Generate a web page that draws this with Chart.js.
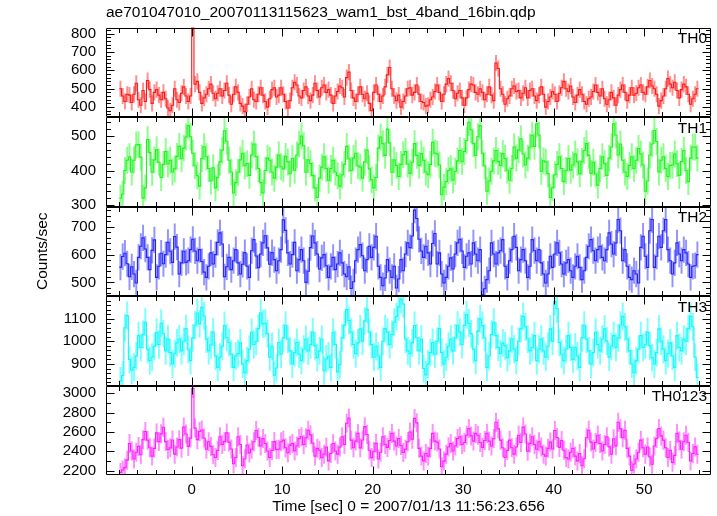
<!DOCTYPE html>
<html><head><meta charset="utf-8">
<script src="https://cdn.jsdelivr.net/npm/chart.js@4"></script>
<style>
html,body{margin:0;padding:0;background:#fff;}
#wrap{position:relative;width:717px;height:516px;overflow:hidden;}
#wrap canvas{position:absolute;left:0;top:0;}
</style></head><body>
<div id="wrap">
<canvas id="c0" width="717" height="516"></canvas>
<canvas id="c1" width="717" height="516"></canvas>
<canvas id="c2" width="717" height="516"></canvas>
<canvas id="c3" width="717" height="516"></canvas>
<canvas id="c4" width="717" height="516"></canvas>
</div>
<script>
const titleText = "ae701047010_20070113115623_wam1_bst_4band_16bin.qdp";
const xTitleText = "Time [sec] 0 = 2007/01/13 11:56:23.656";
const yTitleText = "Counts/sec";
const panelNames = ["TH0", "TH1", "TH2", "TH3", "TH0123"];

const binCenters = [
-7.875,-7.625,-7.375,-7.125,-6.875,-6.625,-6.375,-6.125,-5.875,-5.625,-5.375,-5.125,-4.875,-4.625,-4.375,-4.125,
-3.875,-3.625,-3.375,-3.125,-2.875,-2.625,-2.375,-2.125,-1.875,-1.625,-1.375,-1.125,-0.875,-0.625,-0.375,-0.125,
0.125,0.375,0.625,0.875,1.125,1.375,1.625,1.875,2.125,2.375,2.625,2.875,3.125,3.375,3.625,3.875,
4.125,4.375,4.625,4.875,5.125,5.375,5.625,5.875,6.125,6.375,6.625,6.875,7.125,7.375,7.625,7.875,
8.125,8.375,8.625,8.875,9.125,9.375,9.625,9.875,10.125,10.375,10.625,10.875,11.125,11.375,11.625,11.875,
12.125,12.375,12.625,12.875,13.125,13.375,13.625,13.875,14.125,14.375,14.625,14.875,15.125,15.375,15.625,15.875,
16.125,16.375,16.625,16.875,17.125,17.375,17.625,17.875,18.125,18.375,18.625,18.875,19.125,19.375,19.625,19.875,
20.125,20.375,20.625,20.875,21.125,21.375,21.625,21.875,22.125,22.375,22.625,22.875,23.125,23.375,23.625,23.875,
24.125,24.375,24.625,24.875,25.125,25.375,25.625,25.875,26.125,26.375,26.625,26.875,27.125,27.375,27.625,27.875,
28.125,28.375,28.625,28.875,29.125,29.375,29.625,29.875,30.125,30.375,30.625,30.875,31.125,31.375,31.625,31.875,
32.125,32.375,32.625,32.875,33.125,33.375,33.625,33.875,34.125,34.375,34.625,34.875,35.125,35.375,35.625,35.875,
36.125,36.375,36.625,36.875,37.125,37.375,37.625,37.875,38.125,38.375,38.625,38.875,39.125,39.375,39.625,39.875,
40.125,40.375,40.625,40.875,41.125,41.375,41.625,41.875,42.125,42.375,42.625,42.875,43.125,43.375,43.625,43.875,
44.125,44.375,44.625,44.875,45.125,45.375,45.625,45.875,46.125,46.375,46.625,46.875,47.125,47.375,47.625,47.875,
48.125,48.375,48.625,48.875,49.125,49.375,49.625,49.875,50.125,50.375,50.625,50.875,51.125,51.375,51.625,51.875,
52.125,52.375,52.625,52.875,53.125,53.375,53.625,53.875,54.125,54.375,54.625,54.875,55.125,55.375,55.625,55.875];
const binHalfWidth = 0.125;

const th0 = [
500,460,430,470,465,425,470,530,440,410,490,430,545,495,420,480,495,465,440,480,445,395,380,410,500,440,425,475,510,460,430,460,
835,525,540,480,420,450,470,500,525,475,445,475,500,460,490,530,465,415,470,510,480,420,405,375,415,455,500,440,430,470,505,465,
430,400,445,495,505,455,465,505,470,430,395,435,505,535,520,460,450,490,510,460,435,465,530,490,455,505,520,480,495,465,420,460,
485,515,505,455,560,590,490,450,430,470,510,470,445,475,420,380,480,520,470,430,460,510,575,615,500,460,435,465,400,430,460,500,
505,465,480,520,470,430,425,405,410,440,455,485,520,480,430,470,525,555,530,490,445,475,490,450,410,450,495,525,520,480,470,500,
480,440,470,510,465,435,640,610,500,470,415,445,460,500,515,485,490,450,475,505,450,490,500,460,435,465,510,470,400,430,455,485,
470,430,475,505,540,500,485,515,455,425,465,495,470,430,415,445,455,485,520,480,460,500,445,415,440,480,450,410,465,495,520,480,
435,465,505,465,475,505,520,480,470,510,545,515,500,470,405,435,460,500,555,525,505,535,490,450,495,525,510,470,415,445,470,500];
const th1 = [
320,332,400,430,440,396,430,474,475,439,320,350,490,452,395,431,460,424,380,418,455,419,430,396,405,441,470,434,465,497,530,498,
450,414,385,355,435,469,440,406,370,408,350,380,425,459,515,485,430,396,335,365,395,431,450,414,420,386,445,477,440,406,365,335,
400,436,430,396,378,410,445,411,405,441,425,391,435,401,445,477,500,472,395,431,420,386,350,322,378,410,440,406,372,406,430,396,
385,355,388,418,470,434,400,436,450,414,410,378,425,459,405,373,350,380,465,497,478,444,520,480,395,431,415,383,418,446,455,419,
392,424,478,444,415,449,430,396,388,418,482,450,448,416,330,352,368,400,405,373,398,428,458,426,455,487,540,518,478,444,498,530,
450,414,340,370,398,428,458,426,415,449,435,401,372,406,468,436,460,492,448,416,436,468,502,470,535,503,398,428,425,391,322,350,
388,418,440,406,368,400,435,401,416,448,425,391,426,458,478,444,392,424,390,358,406,440,420,386,436,468,535,503,445,477,430,396,
383,415,440,406,430,464,448,416,340,370,445,477,516,484,396,430,440,406,383,415,416,448,420,386,426,458,400,368,436,468,468,436];
const th2 = [
555,593,605,567,520,556,530,498,590,630,660,620,590,546,615,653,518,558,605,567,600,644,612,572,665,627,530,570,612,572,578,618,
655,613,578,618,575,537,518,558,606,566,600,644,678,638,520,556,590,546,578,618,570,530,565,607,558,518,614,654,595,553,602,642,
668,624,565,607,582,542,578,618,725,687,606,566,600,644,542,582,618,578,500,540,625,667,642,602,548,588,600,560,518,558,590,546,
566,606,570,530,520,556,478,502,578,618,636,596,542,582,630,590,626,666,558,518,488,516,582,542,518,558,480,512,582,542,602,642,
625,667,760,730,655,613,590,630,606,566,640,676,566,606,530,498,518,558,588,548,602,642,655,613,554,594,606,566,642,602,578,618,
455,477,510,542,642,602,566,606,614,654,558,518,578,618,666,626,542,582,618,578,518,558,654,614,578,618,570,530,498,530,594,554,
602,642,606,566,530,570,582,542,518,558,594,554,510,542,590,630,654,614,578,618,630,590,578,618,678,638,602,642,726,686,578,618,
558,518,510,542,530,498,626,666,594,554,686,726,554,594,666,626,686,726,618,578,530,570,642,602,578,618,606,566,518,558,560,600];
const th3 = [
825,849,1060,1114,920,872,885,935,1025,973,1030,1084,965,915,930,978,1040,986,1080,1034,958,1010,950,900,945,993,1010,958,1000,1056,965,915,
1015,1071,1125,1077,1150,1112,1010,958,985,1041,935,885,930,978,1070,1016,995,943,885,935,945,993,900,862,915,965,1040,986,1000,1056,1125,1077,
1080,1034,930,978,850,882,995,943,1015,1071,1010,958,900,950,995,943,915,965,1010,958,985,1041,980,928,958,1010,870,922,935,885,1040,986,
865,897,1015,1071,1140,1092,1040,986,945,993,1055,1001,1090,1142,1040,986,930,978,935,885,1000,1056,1040,986,1030,1084,1110,1152,1185,1165,1010,958,
945,993,1070,1016,958,1010,880,852,900,950,995,943,1000,1056,950,900,930,978,1010,958,1015,1071,1040,986,1070,1118,1080,1034,965,915,1045,1099,
1070,1016,885,935,1030,1084,1025,973,945,993,980,928,958,1010,965,915,1000,1056,1110,1064,1010,958,973,1025,915,965,1010,958,930,978,1055,1001,
1175,1145,995,943,915,965,1025,973,920,974,935,885,1015,1071,1010,958,900,950,1040,986,958,1010,1055,1001,930,978,1025,973,1015,1071,1110,1064,
1010,958,900,862,915,965,1025,973,985,1041,980,928,900,950,1055,1001,965,915,945,993,935,885,1025,973,958,1010,1000,1056,1110,1064,930,840];
const th0123 = [
2180,2206,2230,2308,2480,2402,2320,2390,2450,2364,2520,2604,2515,2437,2350,2430,2590,2500,2580,2648,2500,2418,2435,2517,2370,2444,2520,2432,2650,2578,2450,2536,
3050,2640,2520,2604,2620,2538,2420,2498,2450,2364,2335,2409,2550,2470,2500,2590,2495,2423,2270,2336,2550,2470,2250,2322,2465,2383,2420,2498,2615,2543,2455,2531,
2480,2402,2335,2409,2500,2418,2420,2498,2515,2437,2385,2463,2480,2402,2455,2531,2550,2470,2540,2618,2570,2486,2350,2430,2410,2334,2370,2444,2300,2376,2480,2402,
2370,2444,2550,2470,2690,2744,2515,2437,2505,2585,2435,2517,2655,2573,2410,2334,2400,2482,2320,2390,2550,2470,2440,2512,2585,2505,2455,2531,2460,2388,2420,2498,
2600,2524,2740,2694,2430,2350,2300,2376,2350,2430,2585,2505,2495,2423,2240,2298,2370,2444,2480,2402,2455,2531,2550,2470,2490,2566,2635,2559,2505,2585,2565,2491,
2440,2512,2585,2505,2455,2531,2700,2632,2515,2437,2335,2409,2515,2437,2370,2444,2565,2491,2650,2578,2400,2482,2550,2470,2420,2498,2445,2369,2350,2430,2495,2423,
2615,2543,2440,2512,2410,2334,2320,2390,2430,2350,2300,2376,2250,2322,2540,2618,2495,2423,2490,2566,2480,2402,2470,2550,2445,2369,2530,2456,2700,2632,2540,2618,
2430,2350,2200,2268,2320,2390,2515,2437,2370,2444,2340,2266,2455,2531,2635,2559,2515,2437,2335,2409,2285,2357,2585,2505,2420,2498,2565,2491,2300,2376,2445,2369];

const errTH0 = 42, errTH1 = 38, errTH2 = 46, errTH3 = 60, errTH0123 = 95;

const yMinTH0 = 346, yMaxTH0 = 833;
const yMinTH1 = 296, yMaxTH1 = 555;
const yMinTH2 = 451, yMaxTH2 = 773;
const yMinTH3 = 805, yMaxTH3 = 1200;
const yMinTH0123 = 2154, yMaxTH0123 = 3081;

const yTicksTH0 = [400, 500, 600, 700, 800];
const yTicksTH1 = [300, 400, 500];
const yTicksTH2 = [500, 600, 700];
const yTicksTH3 = [900, 1000, 1100];
const yTicksTH0123 = [2200, 2400, 2600, 2800, 3000];
const yMinorSteps = [20, 20, 20, 20, 100];

const xMin = -9.47, xMax = 57.38;
const xTicks = [0, 10, 20, 30, 40, 50];
const xMinorStep = 2;

const panels = [
  {name: panelNames[0], v: th0, e: errTH0, min: yMinTH0, max: yMaxTH0, ticks: yTicksTH0, minor: yMinorSteps[0], line: 'rgb(255,25,25)', bar: 'rgba(255,60,60,0.58)'},
  {name: panelNames[1], v: th1, e: errTH1, min: yMinTH1, max: yMaxTH1, ticks: yTicksTH1, minor: yMinorSteps[1], line: 'rgb(35,240,35)', bar: 'rgba(60,255,60,0.6)'},
  {name: panelNames[2], v: th2, e: errTH2, min: yMinTH2, max: yMaxTH2, ticks: yTicksTH2, minor: yMinorSteps[2], line: 'rgb(35,35,255)', bar: 'rgba(60,60,255,0.55)'},
  {name: panelNames[3], v: th3, e: errTH3, min: yMinTH3, max: yMaxTH3, ticks: yTicksTH3, minor: yMinorSteps[3], line: 'rgb(25,245,245)', bar: 'rgba(50,255,255,0.65)'},
  {name: panelNames[4], v: th0123, e: errTH0123, min: yMinTH0123, max: yMaxTH0123, ticks: yTicksTH0123, minor: yMinorSteps[4], line: 'rgb(255,30,255)', bar: 'rgba(255,60,255,0.58)'}
];

// layout (pixel geometry of the stacked panels)
const edges = [27.5, 117, 206.5, 296, 385.5, 475];
const FONT = 'Liberation Sans';

const framePlugin = {
  id: 'qdpFrame',
  afterDatasetsDraw(chart, args, opts) {
    const {ctx, chartArea: a, scales} = chart;
    const xs = scales.x, ys = scales.y;
    const L = Math.round(a.left) + 0.5, R = Math.round(a.right) - 0.5;
    const T = Math.round(a.top) + 0.5, B = Math.round(a.bottom) - 0.5;
    ctx.save();
    ctx.strokeStyle = '#000';
    ctx.lineWidth = 1;
    ctx.beginPath();
    ctx.rect(L, T, R - L, B - T);
    for (let t = Math.ceil(xs.min / xMinorStep) * xMinorStep; t <= xs.max; t += xMinorStep) {
      const px = Math.round(xs.getPixelForValue(t)) + 0.5;
      const len = xTicks.includes(t) ? 8 : 4.5;
      ctx.moveTo(px, T); ctx.lineTo(px, T + len);
      ctx.moveTo(px, B); ctx.lineTo(px, B - len);
    }
    const step = opts.minor;
    for (let v = Math.ceil(ys.min / step) * step; v <= ys.max; v += step) {
      const py = Math.round(ys.getPixelForValue(v)) + 0.5;
      const len = opts.major.includes(v) ? 8 : 4.5;
      ctx.moveTo(L, py); ctx.lineTo(L + len, py);
      ctx.moveTo(R, py); ctx.lineTo(R - len, py);
    }
    ctx.stroke();
    ctx.fillStyle = '#000';
    ctx.font = '15.5px "' + FONT + '"';
    ctx.textAlign = 'right';
    ctx.textBaseline = 'middle';
    ctx.fillText(opts.label, a.right - 4, a.top + 11.5);
    ctx.restore();
  }
};

panels.forEach((p, i) => {
  const isTop = i === 0, isBottom = i === panels.length - 1;
  const stepPts = binCenters.map((t, k) => ({x: t - binHalfWidth, y: p.v[k]}));
  stepPts.push({x: binCenters[binCenters.length - 1] + binHalfWidth, y: p.v[p.v.length - 1]});
  const errData = binCenters.map((t, k) => ({x: t, y: [p.v[k] - p.e, p.v[k] + p.e]}));
  const tickFont = {family: FONT, size: 15};
  new Chart(document.getElementById('c' + i), {
    type: 'line',
    data: {
      datasets: [
        {type: 'bar', data: errData, backgroundColor: p.bar, borderWidth: 0, barThickness: 1.3, grouped: false, order: 2},
        {type: 'line', data: stepPts, borderColor: p.line, borderWidth: 1.1, pointRadius: 0, stepped: 'before', fill: false, order: 1}
      ]
    },
    options: {
      responsive: false,
      animation: false,
      devicePixelRatio: 1,
      events: [],
      layout: {padding: {left: 29, right: 6, top: isTop ? 0 : edges[i], bottom: isBottom ? 0 : 516 - edges[i + 1]}},
      plugins: {
        legend: {display: false},
        tooltip: {enabled: false},
        title: isTop ? {display: true, text: titleText, align: 'start', fullSize: false, color: '#000',
          font: {family: FONT, size: 15.5, weight: 'normal'}, padding: {top: 3, bottom: 27.5 - 3 - 15.5 * 1.2}} : {display: false},
        qdpFrame: {minor: p.minor, major: p.ticks, label: p.name}
      },
      scales: {
        x: isBottom ? {
          type: 'linear', min: xMin, max: xMax, offset: false,
          afterFit(s) { s.height = 41; },
          afterBuildTicks(s) { s.ticks = xTicks.map(v => ({value: v})); },
          ticks: {padding: 6, maxRotation: 0, autoSkip: false, color: '#000', font: tickFont, callback: v => String(v)},
          grid: {display: false, drawTicks: false},
          border: {display: false},
          title: {display: true, text: xTitleText, color: '#000', font: {family: FONT, size: 15.5}, padding: {top: 0, bottom: 0}}
        } : {type: 'linear', min: xMin, max: xMax, offset: false, display: false},
        y: {
          type: 'linear', min: p.min, max: p.max,
          afterFit(s) { s.width = 77; },
          afterBuildTicks(s) { s.ticks = p.ticks.map(v => ({value: v})); },
          ticks: {padding: 10, color: '#000', font: tickFont, callback: v => String(v), autoSkip: false},
          grid: {display: false, drawTicks: false},
          border: {display: false},
          title: i === 2 ? {display: true, text: yTitleText, color: '#000', font: {family: FONT, size: 15.5}, padding: {top: 4, bottom: 0}} : {display: false}
        }
      }
    },
    plugins: [framePlugin]
  });
});
</script>
</body></html>
